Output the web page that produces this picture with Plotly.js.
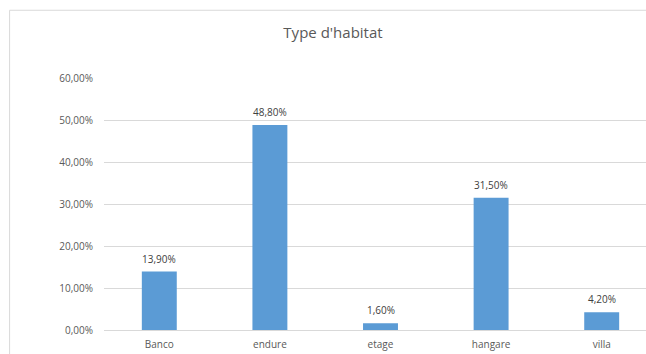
<!DOCTYPE html>
<html>
<head>
<meta charset="utf-8">
<script src="https://cdn.plot.ly/plotly-3.0.1.min.js"></script>
<style>
  html, body { margin: 0; padding: 0; background: #ffffff; overflow: hidden; }
  #chart { width: 670px; height: 354px; }
</style>
</head>
<body>
<div id="chart"></div>
<script>
// Housing types and their share of households
const categories = ['Banco', 'endure', 'etage', 'hangare', 'villa'];
const shares = [0.139, 0.488, 0.016, 0.315, 0.042];
const tickValues = [0, 0.1, 0.2, 0.3, 0.4, 0.5, 0.6];

const textColor = '#595959';
const gridColor = '#d9d9d9';
const barColor = '#5b9bd5';
const fontFamily = 'Open Sans, Noto Sans, sans-serif';

const bars = {
  type: 'bar',
  x: categories,
  y: shares,
  marker: { color: barColor },
  hoverinfo: 'skip'
};

// value labels sitting just above each bar
const valueLabels = categories.map((c, i) => ({
  x: c,
  y: shares[i],
  xref: 'x',
  yref: 'y',
  text: (shares[i] * 100).toFixed(2).replace('.', ',') + '%',
  showarrow: false,
  yanchor: 'bottom',
  yshift: 4,
  font: { family: fontFamily, size: 10, color: '#404040' }
}));

const layout = {
  width: 670,
  height: 354,
  margin: { l: 104, r: 12.5, t: 78.3, b: 23.5, pad: 0 },
  paper_bgcolor: '#ffffff',
  plot_bgcolor: '#ffffff',
  separators: ', ',
  bargap: 0.684,
  showlegend: false,
  font: { family: fontFamily, color: textColor },
  title: {
    text: "Type d'habitat",
    font: { family: fontFamily, size: 15, color: textColor },
    x: 333 / 670,
    xanchor: 'center',
    y: 1 - 33 / 354,
    yanchor: 'middle'
  },
  xaxis: {
    type: 'category',
    showgrid: false,
    showline: true,
    linecolor: gridColor,
    linewidth: 1,
    ticks: '',
    tickfont: { family: fontFamily, size: 10, color: textColor },
    ticklabelstandoff: 5,
    fixedrange: true
  },
  yaxis: {
    range: [0, 0.6],
    tickvals: tickValues,
    tickformat: '.2%',
    showgrid: true,
    gridcolor: gridColor,
    gridwidth: 1,
    zeroline: false,
    showline: false,
    ticks: '',
    tickfont: { family: fontFamily, size: 10, color: textColor },
    ticklabelstandoff: 10,
    fixedrange: true
  },
  annotations: valueLabels,
  shapes: [{
    type: 'rect',
    xref: 'paper',
    yref: 'paper',
    x0: (9.5 - 104) / 553.5,
    x1: 1.2,
    y0: -0.5,
    y1: (330.5 - 10.5) / 252.2,
    line: { color: gridColor, width: 1 },
    fillcolor: 'rgba(0,0,0,0)',
    layer: 'below'
  }]
};

Plotly.newPlot('chart', [bars], layout, { displayModeBar: false, staticPlot: true });
</script>
</body>
</html>
